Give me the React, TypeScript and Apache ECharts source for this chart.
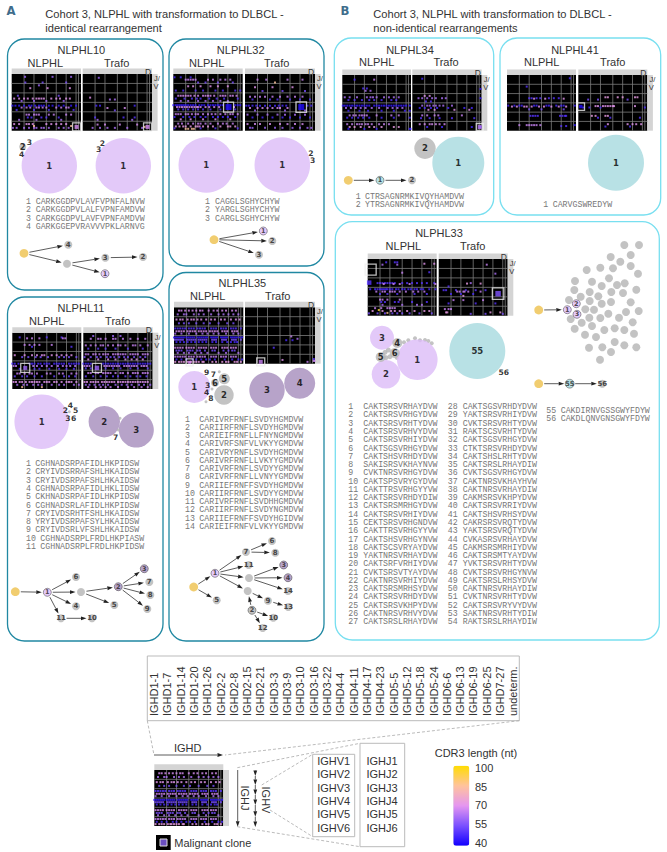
import React, { useEffect, useRef } from "react";
import * as echarts from "echarts";

// ---------- category / tick data ----------
const ighdLabels = ["IGHD1-1","IGHD1-7","IGHD1-14","IGHD1-20","IGHD1-26","IGHD2-2","IGHD2-8","IGHD2-15","IGHD2-21","IGHD3-3","IGHD3-9","IGHD3-10","IGHD3-16","IGHD3-22","IGHD4-4","IGHD4-11","IGHD4-17","IGHD4-23","IGHD5-5","IGHD5-12","IGHD5-18","IGHD5-24","IGHD6-6","IGHD6-13","IGHD6-19","IGHD6-25","IGHD7-27","undeterm."];
const ighvLabels = ["IGHV1","IGHV2","IGHV3","IGHV4","IGHV5","IGHV6"];
const ighjLabels = ["IGHJ1","IGHJ2","IGHJ3","IGHJ4","IGHJ5","IGHJ6"];
const cdr3Ticks = ["100","85","70","55","40"];
const dFamilyEdges = [5, 9, 14, 18, 22, 26, 27];
const vFamilyEdges = [1, 2, 3, 4, 5];

// ---------- CDR3 sequences ----------
const seq10 = ["CARKGGDPVLAVFVPNFALNVW","CARKGGDPVLALFVPNFAMDVW","CARKGGDPVLAVFVPNFAMDVW","GARKGGEPVRAVVVPKLARNVG"];
const seq32 = ["CAGGLSGHYCHYW","YARGLSGHYCHYW","CARGLSGHYCHYW"];
const seq34 = ["CTRSAGNRMKIVQYHAMDVW","YTRSAGNRMKIVQYHAMDVW"];
const seq41 = ["CARVGSWREDYW"];
const seq11 = ["CGHNADSRPAFIDLHKPIDSW","CRYIVDSRRAFSHLHKAIDSW","CRYIVDSRPAFSHLHKAIDSW","CGHNADSRPAFIDLHKLIDSW","CKHNADSRPAFIDLHKPIDSW","CGHNADSRLAFIDLHKPIDSW","CRYIVDSRHTFSHLHKAIDSW","YRYIVDSRPAFSYLHKAIDSW","CRYIVDSRLVFSHLHKAIDSW","CGHNADSRPLFRDLHKPIASW","CGHNADSRPLFRDLHKPIDSW"];
const seq35 = ["CARIVRFRNFLSVDYHGMDVW","CARIIRFRNFLSVDYHGMDVW","CARIEIFRNFLLFNYNGMDVW","CARIVRFSNFVLVKYYGMDVW","CARIVRYRNFLSVDYHGMDVW","CARIVRFRNFLLVKYYGMDVW","CARIVRFRNFLSVDYYGMDVW","CARIVRFRNFLLVNYYGMDVW","CARIIEFRNFFSVDYHGMDVW","CARIIRFRNFLSVDYYGMDVW","CARIVRFRNFLSVDHHGMDVW","CARIIRFRNFLSVDYNGMDVW","CARIIEFRNFFSVDYHGIDVW","CARIEIFRNFVLVKYYGMDVW"];
const seq33a = ["CAKTSRSVRHAYDVW","CAKTSRSVRHGYDVW","CAKTSRSVRHTYDVW","CAKTSRSVRHVYDVW","CAKTSRSVRHIYDVW","CAKTSGSVRHGYDVW","CAKTSHSVRHDYDVW","SAKISRSVKHAYNVW","CVKTNRSVRHGYDVW","CAKTSPSVRYGYDVW","CAKTTRSVRHGYYVW","CAKTSRSVRHDYDIW","CAKTSRSMRHGYDVW","CAKTSRSVRHIYDVW","CEKTSRSVRHGNDVW","CAKTTRSVRHGYYVW","CAKTSHSVRHGYNVW","CAKTSCSVRYAYDVW","YAKTNRSVRHAYDVW","CAKTSRFVRHIYDVW","CVKTSRSVTYAYDVW","CAKTNRSVRHIYDVW","CAKTSRSMRHSYDVW","CAKTSRSVRHDYDVW","CAKTSRSVKHPYDVW","CAKTNRSVRHVYDVW","CAKTSRSLRHAYDVW"];
const seq33b = ["CAKTSGSVRHDYDVW","YAKTSRSVRHIYDVW","CVKTSRSVRHTYDVW","RAKTSCSVRHTYDVW","CAKTSGSVRHGYDVW","CTKTSRSVRHDYDVW","CAKTSHSLRHTYDVW","CAKTSRSLRHAYDIW","CVKTSGSVRHGYDVW","CAKTNRSVKHAYHVW","CAKTNRSVRHAYDIW","CAKMSRSVKHPYDVW","CAKTSRSVRRIYDVW","CAKTSHSVRHSYDVW","CAKRSRSVRQTYDVW","YAKTSRSVRQTYDVW","CVKASRSVRHAYDVW","CAKMSRSMRHIYDVW","CAKTSRSMTYAYDVW","YVKTSRSVRHTYDVW","CVKTSRSVRHGYNVW","CAKTSRSLRHSYDVW","CAKTNRSVRHAYDIW","CVKTNRSVRHTYDVW","CAKTSRSVRYVYDVW","SAKTNRSVRHTYDIW","RAKTSRSLRHAYDIW"];
const seq33c = ["CAKDIRNVGSSGWYFDYW","CAKDLQNVGNSGWYFDYW"];

// ---------- heat-map dots: [row position, CDR3 length, ...IGHD positions] ----------
const dots10a = [
  [0.3,60,5.4,16.5,24],[0.9,55,5.5,12.5,22],[1.2,60,11],[1.5,70,7.5,14.5,23.5],
  [2.3,55,2.5,19],[2.6,70,1,3,5,6.5,8.5,10,11,12,13,16,18,19.5,22,23.5],[2.85,60,4,9,14,21],
  [3.35,45,0.3,1.5,3,5,7,8,9.5,11,12,13,15,16.5,19,21,24,26],[3.55,66,4,6,7.5,10,11,12.5,14,18,20,22,23],[3.8,50,2,9,15,25],
  [4.3,66,6,7,9,10,11,15,17,22,24],[4.6,50,6.5,8,12,14,19],[4.85,62,3,10,20],
  [5.3,70,1,3,6,7,8.5,14,16,18,20,22],[5.7,62,0.5,2,5,7,9,10,12,13,15,19,21,23],[5.5,85,9,24],
];
const dots10b = [
  [0.4,60,6.5],[2.5,70,3],[2.7,62,11,13],[3.35,48,5.5,7,21],[3.6,68,10,17],[3.85,55,13],
  [4.6,50,5,16.5,21],[4.85,62,6,20],[5.35,68,6,9,15,22],[5.7,62,4,7,10,13,18,24],[5.6,85,25],
];
const dots32a = [
  [0.35,48,0.5,3,7],[0.6,66,5,6,7,8,9,14,16,19,21,23],[0.9,55,10,13,18,24],
  [1.3,70,6,8,11,15,18,22],[1.75,50,1,4,9,12,17,20,25,27],
  [2.3,68,2,3,4,5,6,7,8.5,10,12,13,14,15,16.5,19,20,21,23,24,25.5],[2.6,50,1,4.5,7.5,9.5,11,14.5,17.5,20.5,26],[2.85,62,3,6,10,13,16,19,22],
  [3.3,45,0,1,1.8,2.6,3.4,4.2,5,6,7,8,9,10.5,11.5,12.5,14,15,16,17,18,19,20,25,26,27],[3.5,68,1.5,2.5,3.5,4.5,5.5,6.5,7.5,8.5,9.5,10,11,13,14.5,16.5,18.5,24.5],[3.75,50,2,4,6,8,10,12,15,19,25],
  [4.25,66,1,2,3,5,6,7.5,9,10,12,14,15.5,17,19,21,23,24,26],[4.55,48,0.5,4,6.5,8.5,11,13,16,18,20,22,25],[4.8,70,3,7,12,17,23],
  [5.25,66,2,3.5,6,8,10,11,13,15,18,20,21.5,24],[5.55,72,1,2.5,4,5,7,9,9.8,10.6,12,14,16,19,22,23,25],[5.8,85,5,6,7.5,8.3],[5.75,50,0.5,11,17,26],
];
const dots32b = [
  [0.6,66,5,8.5,17,23],[0.9,85,12],[1.4,70,4,11,19],[1.8,55,7,15,24],
  [2.4,66,2,4,6,8,11,14,17,20,23],[2.7,50,3,10,13,18,22,26],
  [3.35,48,0.5,1.5,3,4.5,6,8,10,12,13.5,15,16.5,25,26.5],[3.6,68,2,5,7,9,11,13,14,17],[3.85,60,4,16,24],
  [4.3,62,1,5,9,13,16,20,24],[4.6,48,3,7,11,15,18,22,26],
  [5.3,68,1,4,6,10,14,17,20,23],[5.7,60,2,3,8,12,15,19,22,25,26.5],
];
const dots34a = [
  [0.5,48,5],[0.5,66,13],[1.45,50,8.5,10],[1.7,62,9.5,11.5],
  [2.4,62,1,3,6,10,11.5,12.5,14,17,19,21,23],[2.7,50,2.5,5,8,11,13,16,20,22],
  [3.3,45,0.2,1,2,3,4,5,6,7,8,9,10,11,13,14,15,16,17,18,19,20,21,22,23,24,25,26,27.5],[3.55,62,1.5,3.5,5.5,7.5,9.5,12,15,18.5,20.5,22.5,24.5],[3.85,48,2.5,7,10.5,16,21,25.5,27.5],
  [4.35,66,3,4.5,5.5,7,8,9,10,14,20,23],[4.6,48,2,4,6.5,8.5,11,16,21,27.5],
  [5.3,66,2,4,6,7,8,9.5,10.5,12,15,17,19],[5.6,72,3,5,7.5,11,13,16,21,23],[5.8,45,2.5,9,14,27.5,27.8],
];
const dots34b = [
  [0.4,48,4],[2.25,70,5,7],[2.5,62,2.5,4,6,8,9.5,12,13.5],[2.85,50,5.5,7.5],
  [3.3,62,4,6,7,8.5,9.5,11,12.5,16],[3.55,48,3,5,7.5,10,14.5,21,24],[3.75,70,6.5,9,17,23],
  [4.35,66,4,6,9,10.5,20],[4.65,50,3.5,7,11,16,25],
  [5.3,68,3,5,7,8,9.5,11,13],[5.6,48,6,12,24,27.5],[1.5,45,27.5],[2.5,45,27.5],
];
const dots41a = [
  [0.35,48,25.5],[1.25,50,8],[2.5,50,9,10,12,13.5,17,19,21],[2.55,70,11,15.5,23],
  [3.3,48,0.5,3,5,6,11,12,16,17,20,22,23,27.5],[3.4,70,2,4,7,8,10,13,15,18,21,24],[3.7,55,9,14,23],
  [4.4,50,9.5,10.5,11.5,12.5,21.5,22.5,23.5,24],[5.4,66,5,8,9,10,11,12,13.5],[5.5,50,22,24],[5.4,45,27.5],
];
const dots41b = [
  [2.4,72,11,12,16,18,23,24],[2.65,55,4,8,20],
  [3.35,70,7,8,10,11,12,13,14,14.5,23],[3.5,48,2,4.5,9,27],[4.4,72,5.5,7,11,12],[4.6,50,8,13,25],
  [5.3,70,12,20,22,23.5,25.5],[5.55,50,11,21],
];
const dots11a = [
  [0.5,50,3,14,20],[0.6,66,6,8,11,20.5,21.5],[1.3,66,5,7,9,11,16],[1.5,50,8,24],
  [2.4,70,1,5,8,10,12,13,16,18,20,22,24],[2.6,55,4,6.5,9.5,11.5,14.5,19,21,23,26],
  [3.3,48,0,1,2.5,7,8,9,10.5,11.5,13,14,15,17,18,19,20,21,23,24,25,26,27],[3.55,64,0.5,1.5,8.5,10,12,14,16,18.5,20.5,22,23.5,25.5],[3.85,50,3,9,11,15,19,22,25],
  [4.35,66,2,3,5,7,8,10,14,15.5,19,20.5,24,26],[4.65,52,1,4,6,9,12,17,21,23,25.5],
  [5.25,70,0.5,1.5,3,4,5.5,7,8,9,10,11,13,14,15,17,18,20,22,23,24,26],[5.55,62,2,4.5,6,8.5,10.5,12,16,19,21,25,27],[5.8,85,4,12],
];
const dots11b = [
  [0.35,60,4,12,15],[0.65,66,3,6,7,9,12,13,16,19,22,25],[1.35,66,1,3,5,7,8,10,12,14,15,17,20,21,23,26],[1.7,52,2,6,9,13,18,24],
  [2.3,66,1,2,4,5,6.5,8,9,10,12,13,14,15,16,17,19,20,21,22,24,25,26],[2.6,55,0.5,3,5.5,7,9.5,11,12.5,14.5,16.5,18,20.5,23,25],[2.85,70,2,6,10,13,17,19.5,21.5,24],
  [3.3,48,0,1,2,3,8,9,10,11,12,13,14,15,16,17,18,19,20,21,22,23,24,25,26,27],[3.55,66,0.5,1.5,2.5,8.5,9.5,10.5,11.5,12.5,13.5,14.5,16.5,17.5,18.5,19.5,20.5,21.5,23.5,24.5,25.5],[3.8,52,1,3,9,12,15,19,22,26],
  [4.3,66,2,3,5,6,8,9,10,11,13,15,16,18,20,21,22,24,25,26],[4.65,52,1,4,7,9.5,12,14,17,19,21.5,23,25.5],
  [5.25,70,0.5,1.5,3,4,5,6,7.5,8.5,9.5,10.5,11.5,12.5,14,15,16,17,18,19,20,21,22,23,24,25,26],[5.55,60,1,2.5,4.5,6.5,8,10,13,15.5,17.5,19.5,22.5,24.5,27],[5.8,66,2,5,7,9,11,14,18,20.5,23.5,26],
];
const dots35a = [
  [0.35,68,2,3,4.5,6,7.5,9,10.5,11.5,14,16,17.5,19.5,21,23.5,25],[0.75,62,1.5,4,5,8,10,12,15,18,20,22,24,26],
  [1.3,70,1,2.5,3.5,5.5,7,8,9.5,11,13,15,16.5,19,20.5,23,25,26.5],[1.7,55,2,4,6,9,12,14.5,18,21.5,24],
  [2.25,50,0.5,1.5,2.5,3.5,4.5,6,7,8,9.5,10.5,11.5,12.5,15,16,17,19,20,21,23,24,25,27],[2.55,68,1,2,3,4,5.5,6.5,7.5,8.5,10,11,12,13,14.5,15.5,16.5,17.5,19.5,20.5,21.5,23.5,24.5,25.5],[2.8,62,0.5,3,6,9,11.5,13.5,16,18,21,24,26],
  [3.2,45,0,0.8,1.6,2.4,3.2,4,5,5.8,6.6,7.4,8.2,9.5,10.3,11.1,11.9,12.7,13.4,15,15.8,16.6,17.4,19,19.8,20.6,21.4,23,23.8,24.6,25.4,26.5,27.5],[3.45,55,0.4,1.2,2,2.8,3.6,5.4,6.2,7,7.8,8.6,9.9,10.7,11.5,12.3,13.1,15.4,16.2,17,19.4,20.2,21,23.4,24.2,25,27],[3.7,48,1,2.5,4,5.5,7,8.5,10,11.5,13,15.5,17,19.5,21.5,23,24.5,25.5],
  [4.3,68,0.5,1.5,2.5,3.5,5,6,7,8,10,11,12,13,15,16,17,19.5,20.5,21.5,23,24,25],[4.6,55,1,2,3,5.5,6.5,7.5,9.5,10.5,12.5,15.5,16.5,20,22,23.5,24.5],[4.85,62,1.5,4,6,8.5,11,13.5,18,21,26],
  [5.25,66,0.5,1.5,2.5,3.5,4.5,6,7,8,9.5,10.5,11.5,12.5,15,16,17,19,20,21,23,24,25],[5.55,48,1,3,5,7.5,9,11,13,14.5,16.5,20.5,23.5,26,27.5],[5.8,72,0.5,2,3,4,5.5,6.5,7,8,9,10,11.5,12,15.5,17,19.5,21,22,24.5,25.5,27],
];
const dots35b = [[3.35,62,21],[3.5,48,16.5,19],[3.1,66,18.5],[4.3,50,11.5],[5.6,70,15],[5.8,66,25],[5.5,50,27.5],[5.7,66,27.5,27.8]];
const dots33a = [
  [0.35,50,7.5,11,12],[0.6,62,6,12],[0.5,70,23,27],[1.45,66,14],[1.4,50,25],
  [2.55,50,4,5,6,7,8,9,10,11,14,16,18,20,22,24,27],[2.65,68,6.5,10.5,13,17,27.5],
  [3.2,48,1,3,4,5,5.8,6.6,7.4,8,9,10,11.5,12.5,14,15,16.5,17.5,19,20,21.5,22.5,25,27.5],[3.45,66,3.5,6,7,9,10,11,13,15.5,18.5,20.5,23],[3.7,50,5,8,12,19,24],
  [4.3,66,5,6,8,13],[4.55,50,5.5,7,11,12.5,18,24],[4.85,62,6,14,20,22],
  [5.2,66,3,5.5,8,9,10,11],[5.5,72,2,6,9.5,11,13,16,19,23,25],[5.75,55,0.5,4,7,10,12,14,17,21,26],[5.4,95,4.5],[5.7,85,8],
];
const dots33b = [
  [0.6,66,19.5],[1.55,62,23],[2.55,62,13],[2.6,72,11.5,17],[2.9,50,4],
  [3.3,50,2,3,7,11,15,19],[3.45,66,7.5,8.5,10,10.5,12,17],[3.7,48,5,9,14],[3.9,72,10],
  [4.35,66,6,10,18],[4.7,50,4,15,23],[5.3,66,2.5,4,5],[5.65,72,3,3.5,21,25],[5.8,55,13,19,26],
];

// ---------- malignant clone markers: [IGHD position, row position, CDR3 length] ----------
const clone10a = [[26.2, 5.6, 68]];
const clone10b = [[26.2, 5.6, 68]];
const clone32a = [[22.3, 3.5, 42]];
const clone32b = [[22.5, 3.5, 42]];
const clone34b = [[27.2, 5.6, 64]];
const clone41b = [[1, 3.4, 42]];
const clone11a = [[5.25, 3.75, 60]];
const clone11b = [[5.5, 3.75, 60]];
const clone35a = [[6.3, 5.85, 68]];
const clone35b = [[6.3, 5.8, 66]];
const clone33a = [[0.6, 2.5, 50]];
const clone33b = [[24.1, 3.67, 56]];
const cloneFrame33a = [[1.2, 1.13]];

// ---------- clone-size bubbles: [x, y, radius, label, colour key] ----------
const bubbles10 = [[49.3,165.7,27.7,"1","l"],[22.7,146.7,3.5,"2","g"],[29.3,142.7,0,"3","n"],[21.7,154.3,0,"4","n"],[123.3,165.7,27.7,"1","l"],[102.3,143.3,0,"2","n"],[98.7,149.7,0,"3","n"]];
const bubbles32 = [[206.3,165,27.8,"1","l"],[282.3,165,27.8,"1","l"],[311,153.3,0,"2","n"],[312.7,160.7,0,"3","n"]];
const bubbles34 = [[425,148.3,10.7,"2","g"],[458.3,162.7,26,"1","t"]];
const bubbles41 = [[616,162.7,28,"1","t"]];
const bubbles11 = [[41.7,421.7,27.3,"1","l"],[69.3,411.7,1.5,"","g"],[65.3,410.7,0,"2","n"],[70.3,405.7,0,"4","n"],[75.7,410.7,0,"5","n"],[68,418,0,"3","n"],[73.7,418,0,"6","n"],[104.3,421.7,15.7,"2","p"],[136.3,430,17.5,"3","p"],[120,418.3,1.5,"","g"],[118.3,430,1.5,"","g"],[115.7,437,0,"7","n"]];
const bubbles35 = [[194.3,387,16,"1","l"],[224,395,9.7,"2","g"],[224.3,378.7,5.5,"5","g"],[215,382.7,4,"6","g"],[219.3,371.7,1.5,"","g"],[206,401.7,1.5,"","g"],[212,389,1.5,"","g"],[207.7,385,0,"3","n"],[206.7,392.7,0,"4","n"],[211,398.3,0,"8","n"],[206.7,372,0,"9","n"],[213.3,374,0,"7","n"],[267,390,17.7,"3","p"],[299.7,383.3,15.5,"4","p"]];
const bubbles33 = [[404,342.3,2,"","g"],[408.3,340.3,2,"","g"],[415,338.3,2,"","g"],[420,340.3,2,"","g"],[425,340,2,"","g"],[428.3,341,2,"","g"],[431.7,343.3,2,"","g"],[385,352.3,2.5,"","g"],[388.3,350,2.5,"","g"],[390,356.7,2.5,"","g"],[396.7,357.7,2,"","g"],[386,357.7,2.5,"","g"],[382,337.7,12,"3","l"],[386,374.3,14.3,"2","l"],[417.3,359.7,20.3,"1","l"],[397.3,343,5,"4","g"],[380.7,357,5,"5","g"],[394.7,353,5,"6","g"],[477.3,351,28,"55","t"],[503.7,372,0,"56","n"]];

// ---------- lineage trees ----------
const tree10 = [[24,253.3,4.4,"","y"],[68.3,244.7,4,"4","g"],[67,263.7,4,"","g"],[105.3,257.7,4,"3","g"],[143,257,4,"2","g"],[105,273.7,4,"1","lr"]];
const edges10 = [[0,1],[0,2],[2,3],[3,4],[2,5]];
const tree32 = [[214,239.7,4.4,"","y"],[263.3,231,4,"1","lr"],[272.3,241,4,"2","g"],[259,254.7,4,"3","g"]];
const edges32 = [[0,1],[0,2],[0,3]];
const tree34 = [[348.3,180.3,4.4,"","y"],[380,180.3,4,"1","tr"],[412,180.3,4,"2","g"]];
const edges34 = [[0,1],[1,2]];
const tree11 = [[15.3,591.7,4.4,"","y"],[47.3,592.3,4,"1","lr"],[76,577,4,"6","g"],[81,592,4,"","g"],[76,606.3,4,"4","g"],[61,618.3,4,"11","g"],[92,618.3,4,"10","g"],[118.3,586.7,4,"2","pr"],[114.3,605,4,"5","g"],[144.3,568.7,4,"3","pr"],[149.3,582,4,"7","g"],[150.3,595,4,"8","g"],[147.3,609,4,"9","g"]];
const edges11 = [[0,1],[1,2],[1,3],[1,4],[1,5],[5,6],[3,7],[3,8],[7,9],[7,10],[7,11],[7,12]];
const tree35 = [[193.7,587,4.4,"","y"],[215,573.3,4,"1","lr"],[216.7,600.3,4,"5","g"],[246,552,4,"7","g"],[272,541,4,"6","g"],[275.3,552.7,4,"8","g"],[248.7,565,4,"11","g"],[249,578,4,"","g"],[247.7,591,4,"","g"],[283.7,565,4,"3","pr"],[288,577.7,4,"4","pr"],[288,591,4,"14","g"],[268,600.7,4,"9","g"],[288.3,607,4,"13","g"],[252,610.3,4,"2","gr"],[273.3,617.7,4,"10","g"],[262.7,628,4,"12","g"]];
const edges35 = [[0,1],[0,2],[1,3],[3,4],[3,5],[1,6],[1,7],[1,8],[7,9],[7,10],[7,11],[8,12],[12,13],[14,8],[14,15],[14,16]];
const tree33 = [[538.7,310,4.4,"","y"],[567.3,309.7,4,"1","lr"],[576.3,303.7,4,"2","lr"],[577,314.3,4,"3","lr"]];
const edges33 = [[0,1]];
const tree33b = [[538.7,383.7,4.4,"","y"],[569.7,383.7,4.4,"55","tr"],[602.3,383.7,4,"56","g"]];
const edges33b = [[0,1],[1,2]];
const cloud33 = [[624.3,245],[639,245],[610.7,257],[630.7,255],[620.3,261.7],[586.7,270],[600.3,267.7],[613,268.3],[630.7,266],[638,273.7],[609,278.3],[575,281],[592,281.7],[601.7,286],[617,285],[624.7,283.3],[636.3,289.7],[574.3,290],[589.7,292],[611.3,292],[623,293],[580.7,296.7],[598.3,296.3],[569,300],[589.7,301],[601.7,303.7],[611,302],[630.7,302.3],[585.3,309.3],[594,309.7],[608.3,313.7],[626,312],[638.7,311],[570.7,319],[589.3,317.7],[600.3,318],[619,317.7],[581.7,322.7],[592,326],[632.7,322.3],[574.7,328.7],[604.3,330],[614.7,328.3],[624.3,330],[634,333.7],[585,334.7],[596,337],[589,347.7],[602.3,347.3],[614.7,342],[624.3,345.3],[636.3,347.3],[611,352],[600,359.7]];

// ---------- layout (not data) ----------
const SANS = '"Liberation Sans", Arial, sans-serif';
const MONO = '"Liberation Mono", monospace';
const BOLD = '"DejaVu Sans", sans-serif';
const TEAL_FRAME = "#2088a2";
const CYAN_FRAME = "#78dff0";
const palette: any = { l: "#dcbcf8", t: "#a6dade", p: "#a58cbc", g: "#b4b4b4", y: "#eec04c", n: "transparent", lr: "#dcbcf8", tr: "#a6dade", pr: "#a58cbc", gr: "#b4b4b4" };
const inkGrey = "#777";

const panels: any[] = [
  { d: dots10a, c: clone10a, cs: 4, f: 8, x: [11.7, 81], y: [74, 130.7] },
  { d: dots10b, c: clone10b, cs: 4, f: 8, x: [82.7, 152], y: [74, 130.7] },
  { d: dots32a, c: clone32a, cs: 6, f: 10, x: [173.3, 242.7], y: [74, 130.7] },
  { d: dots32b, c: clone32b, cs: 6, f: 10.5, x: [245, 315], y: [74, 130.7] },
  { d: dots34a, c: [], x: [342.3, 411], y: [75, 130.7] },
  { d: dots34b, c: clone34b, cs: 4, f: 7, x: [412.3, 481.7], y: [75, 130.7] },
  { d: dots41a, c: [], x: [507, 576], y: [75, 130.7] },
  { d: dots41b, c: clone41b, cs: 3.5, f: 7.5, x: [578.3, 647.3], y: [75, 130.7] },
  { d: dots11a, c: clone11a, cs: 4, f: 9, x: [12.3, 81.3], y: [332.7, 389] },
  { d: dots11b, c: clone11b, cs: 4.5, f: 9, x: [83.3, 152.7], y: [332.7, 389] },
  { d: dots35a, c: clone35a, cs: 3, f: 7, x: [174, 243.3], y: [307.3, 363.7] },
  { d: dots35b, c: clone35b, cs: 4, f: 8, x: [245, 315], y: [307.3, 363.7] },
  { d: dots33a, c: clone33a, cs: 4.5, f: 11, fd: cloneFrame33a, x: [367.7, 436.7], y: [259, 315.7] },
  { d: dots33b, c: clone33b, cs: 5.5, f: 11.5, x: [438.7, 507.7], y: [259, 315.7] },
  { d: dots35a, c: [], x: [154.3, 223.3], y: [770, 826], small: true },
];

const txt = (text: string, x: number, y: number, o: any = {}) => ({
  type: "text", x, y, silent: true, rotation: o.rot || 0,
  style: { text, fontFamily: o.fam || SANS, fontSize: o.size || 11, fontWeight: o.weight || "normal", fill: o.fill || "#333",
    align: o.align || "center", verticalAlign: "middle" },
});
const rect = (x0: number, y0: number, x1: number, y1: number, style: any, r = 0) => ({
  type: "rect", silent: true, shape: { x: x0, y: y0, width: x1 - x0, height: y1 - y0, r }, style,
});
const dash = (x1: number, y1: number, x2: number, y2: number) => ({
  type: "line", silent: true, shape: { x1, y1, x2, y2 }, style: { stroke: "#aaa", lineWidth: 0.8, lineDash: [3, 2] },
});
const seqBlock = (list: string[], first: number, numX: number, seqX: number, seqX2: number, y0: number, dy = 8.27) =>
  list.flatMap((s, i) => {
    const n = first + i;
    const sx = n > 9 ? seqX2 : seqX;
    return [
      txt(String(n), numX, y0 + i * dy, { fam: MONO, size: 8.25, fill: inkGrey, align: "left" }),
      txt(s, sx, y0 + i * dy, { fam: MONO, size: 8.25, fill: inkGrey, align: "left" }),
    ];
  });

function buildGraphic() {
  const els: any[] = [];
  const frames: any[] = [
    [7.5, 39, 163, 290, TEAL_FRAME], [169, 39, 324, 266, TEAL_FRAME], [7.5, 297, 163, 641, TEAL_FRAME], [169, 272.5, 324, 641, TEAL_FRAME],
    [334.3, 38, 493.7, 215, CYAN_FRAME], [500, 38, 660.7, 215, CYAN_FRAME], [335.3, 221.7, 659.3, 640, CYAN_FRAME],
  ];
  frames.forEach((f) => els.push(rect(f[0], f[1], f[2], f[3], { fill: "none", stroke: f[4], lineWidth: 1.3 }, 17)));

  els.push(txt("A", 11, 10.5, { fam: '"DejaVu Sans Condensed", sans-serif', weight: "bold", size: 13, fill: "#3f6d8c" }));
  els.push(txt("B", 345, 10, { fam: '"DejaVu Sans Condensed", sans-serif', weight: "bold", size: 13, fill: "#3f6d8c" }));
  els.push(txt("Cohort 3, NLPHL with transformation to DLBCL -", 45.3, 14.3, { align: "left", size: 11.1 }));
  els.push(txt("identical rearrangement", 45.3, 27.6, { align: "left", size: 11.1 }));
  els.push(txt("Cohort 3, NLPHL with transformation to DLBCL -", 373.3, 14.3, { align: "left", size: 11.1 }));
  els.push(txt("non-identical rearrangements", 373.3, 27.6, { align: "left", size: 11.1 }));

  const titles: any[] = [
    ["NLPHL10", 81.3, 50, 45.3, 116.7, 63], ["NLPHL32", 240.7, 50, 206.7, 276.7, 63], ["NLPHL11", 81, 308.3, 46.7, 117.7, 321],
    ["NLPHL35", 242.3, 283.3, 207.7, 277.7, 295.7], ["NLPHL34", 410, 50, 376.7, 446, 62], ["NLPHL41", 575, 50, 541.7, 612.7, 62],
    ["NLPHL33", 439, 232.7, 403.3, 472.7, 246.3],
  ];
  titles.forEach((t) => {
    els.push(txt(t[0], t[1], t[2]));
    els.push(txt("NLPHL", t[3], t[5]));
    els.push(txt("Trafo", t[4], t[5]));
  });

  // grey D header strips and J/V side strips
  panels.forEach((p, i) => {
    const h = p.small ? 5.7 : 5.5;
    els.push(rect(p.x[0], p.y[0] - h, p.x[1], p.y[0], { fill: "#d4d4d4" }));
    const isTrafo = !p.small && i % 2 === 1;
    if (isTrafo || p.small) {
      const stripW = p.small ? 5.7 : 5.6;
      els.push(rect(p.x[1], p.y[0], p.x[1] + stripW, p.y[1], { fill: "#d4d4d4" }));
    }
    if (isTrafo) {
      els.push(txt("D", p.x[1] - 4, p.y[0] - 2.5, { size: 8.5 }));
      els.push(txt("J/", p.x[1] + 5, p.y[0] + 4.5, { size: 7.5 }));
      els.push(txt("V", p.x[1] + 4, p.y[0] + 12.5, { size: 7.5 }));
    }
  });

  els.push(...seqBlock(seq10, 1, 26, 35.7, 40.7, 201.7));
  els.push(...seqBlock(seq32, 1, 205, 215, 220, 201.7));
  els.push(...seqBlock(seq34, 1, 355.7, 365, 370, 196.3));
  els.push(...seqBlock(seq41, 1, 543.3, 552.7, 557.7, 204.3));
  els.push(...seqBlock(seq11, 1, 26, 35.3, 40.3, 463.7));
  els.push(...seqBlock(seq35, 1, 185, 199.3, 199.3, 419));
  els.push(...seqBlock(seq33a, 1, 348.3, 363.3, 363.3, 406.7));
  els.push(...seqBlock(seq33b, 28, 447.7, 462.7, 462.7, 406.7));
  els.push(...seqBlock(seq33c, 55, 546.3, 560.7, 560.7, 410.7));

  // key at the bottom
  els.push(rect(147.3, 656, 519.3, 720.7, { fill: "none", stroke: "#bbb", lineWidth: 1 }));
  ighdLabels.forEach((l, i) => els.push(txt(l, 154 + i * 13.31, 716, { rot: Math.PI / 2, align: "left" })));
  els.push(dash(147.3, 720.7, 154, 755), dash(519.3, 720.7, 225, 755));
  els.push(txt("IGHD", 187.7, 747.7));
  els.push(txt("IGHJ", 245, 798, { rot: -Math.PI / 2 }));
  els.push(txt("IGHV", 266, 800, { rot: -Math.PI / 2 }));
  els.push(rect(312.7, 754.3, 354.7, 836.7, { fill: "none", stroke: "#bbb", lineWidth: 1 }));
  els.push(rect(360, 743.3, 404.7, 846.7, { fill: "none", stroke: "#bbb", lineWidth: 1 }));
  els.push(dash(237.3, 767.7, 360, 743.3), dash(237.3, 826.7, 360, 846.7), dash(261.7, 785, 312.7, 754.3), dash(270, 810, 312.7, 836.7));
  ighvLabels.forEach((l, i) => els.push(txt(l, 333.7, 761 + i * 13.33)));
  ighjLabels.forEach((l, i) => els.push(txt(l, 382, 761 + i * 13.33)));
  els.push(rect(156, 835, 170.7, 850, { fill: "#000" }));
  els.push(rect(160, 839, 167, 846, { fill: "#6a4fc0", stroke: "#ddd", lineWidth: 1 }));
  els.push(txt("Malignant clone", 174.3, 843, { align: "left" }));
  els.push(txt("CDR3 length (nt)", 476, 753.3));
  cdr3Ticks.forEach((l, i) => els.push(txt(l, 475, 767.7 + i * 18.85, { align: "left" })));
  return els;
}

const edgeRows = (nodes: any[], edges: number[][]) =>
  edges.map(([a, b]) => [nodes[a][0], nodes[a][1], nodes[b][0], nodes[b][1], 5.5, 5.5]);
const schemaArrows = [
  [154, 755, 223, 755, 0, 0], [237.7, 770, 237.7, 826.7, 0, 0],
  [255.3, 770, 255.3, 776, 0, 0], [255.3, 776, 255.3, 785, 0, 0], [255.3, 785, 255.3, 795, 0, 0],
  [255.3, 795, 255.3, 805, 0, 0], [255.3, 805, 255.3, 816.7, 0, 0], [255.3, 816.7, 255.3, 827, 0, 0],
];

const nodeItem = (n: any[], small: boolean) => {
  const [x, y, r, label, key] = n;
  const ringed = key.length === 2;
  return {
    value: [x, y],
    symbolSize: r === 0 ? 0.1 : r * 2,
    itemStyle: { color: palette[key], borderColor: ringed ? "#333" : "transparent", borderWidth: ringed ? 0.6 : 0 },
    label: {
      show: !!label, position: "inside", formatter: label, color: small ? "#222" : "#000",
      fontFamily: BOLD, fontWeight: "bold", fontSize: small ? (ringed ? 6.5 : 7) : key === "n" ? 7.6 : 8.5,
    },
  };
};

function buildOption() {
  const grids: any[] = [];
  const xAxes: any[] = [];
  const yAxes: any[] = [];
  const series: any[] = [];
  const colored: number[] = [];

  panels.forEach((p, i) => {
    grids.push({ show: true, backgroundColor: "#000", borderWidth: 0, left: p.x[0], top: p.y[0], width: p.x[1] - p.x[0], height: p.y[1] - p.y[0] });
    xAxes.push({ type: "value", gridIndex: i, min: 0, max: 28, show: false });
    yAxes.push({ type: "value", gridIndex: i, min: 0, max: 6, inverse: true, show: false });
    series.push({
      type: "custom", xAxisIndex: i, yAxisIndex: i, silent: true, clip: true,
      data: [...dFamilyEdges.map((v) => [v, 0]), ...vFamilyEdges.map((v) => [v, 1])],
      renderItem: (_: any, api: any) => {
        const v = api.value(0);
        const vert = api.value(1) === 0;
        const a = api.coord(vert ? [v, 0] : [0, v]);
        const b = api.coord(vert ? [v, 6] : [28, v]);
        return { type: "line", shape: { x1: a[0], y1: a[1], x2: b[0], y2: b[1] }, style: { stroke: "#7c7c7c", lineWidth: 0.8 } };
      },
    });
    colored.push(series.length);
    series.push({
      type: "scatter", xAxisIndex: i, yAxisIndex: i, silent: true, symbol: "rect", symbolSize: 2,
      data: p.d.flatMap(([y, c, ...xs]: number[]) => xs.map((x) => [x, y, c])),
    });
    if (p.c.length) {
      colored.push(series.length);
      series.push({ type: "scatter", xAxisIndex: i, yAxisIndex: i, silent: true, symbol: "rect", symbolSize: p.cs, data: p.c });
      series.push({
        type: "scatter", xAxisIndex: i, yAxisIndex: i, silent: true, symbol: "rect", symbolSize: p.f,
        itemStyle: { color: "transparent", borderColor: "#eee", borderWidth: 1.3 },
        data: p.fd ? p.fd : p.c.map((d: number[]) => [d[0], d[1]]),
      });
    }
  });

  // overlay in picture units, for bubbles and lineage trees
  const ov = panels.length;
  grids.push({ left: 0, top: 0, width: 667, height: 852 });
  xAxes.push({ type: "value", gridIndex: ov, min: 0, max: 667, show: false });
  yAxes.push({ type: "value", gridIndex: ov, min: 0, max: 852, inverse: true, show: false });

  const arrows = [
    ...edgeRows(tree10, edges10), ...edgeRows(tree32, edges32), ...edgeRows(tree34, edges34), ...edgeRows(tree11, edges11),
    ...edgeRows(tree35, edges35), ...edgeRows(tree33, edges33), ...edgeRows(tree33b, edges33b), ...schemaArrows,
  ];
  series.push({
    type: "custom", xAxisIndex: ov, yAxisIndex: ov, silent: true, z: 3, data: arrows,
    renderItem: (_: any, api: any) => {
      const a = api.coord([api.value(0), api.value(1)]);
      const b = api.coord([api.value(2), api.value(3)]);
      const g1 = api.value(4), g2 = api.value(5);
      const len = Math.hypot(b[0] - a[0], b[1] - a[1]);
      const ux = (b[0] - a[0]) / len, uy = (b[1] - a[1]) / len;
      const s = [a[0] + ux * g1, a[1] + uy * g1];
      const e = [b[0] - ux * g2, b[1] - uy * g2];
      const hl = 5.5, hw = 1.9;
      const bx = e[0] - ux * hl, by = e[1] - uy * hl;
      return {
        type: "group",
        children: [
          { type: "line", shape: { x1: s[0], y1: s[1], x2: bx, y2: by }, style: { stroke: "#333", lineWidth: 0.8 } },
          { type: "polygon", shape: { points: [[e[0], e[1]], [bx - uy * hw, by + ux * hw], [bx + uy * hw, by - ux * hw]] }, style: { fill: "#222" } },
        ],
      };
    },
  });
  const bubbleItems = [...bubbles10, ...bubbles32, ...bubbles34, ...bubbles41, ...bubbles11, ...bubbles35, ...bubbles33].map((n) => nodeItem(n, false));
  const treeItems = [...tree10, ...tree32, ...tree34, ...tree11, ...tree35, ...tree33b].map((n) => nodeItem(n, true));
  const cloudItems = [...cloud33.map((c) => [c[0], c[1], 4, "", "g"]), ...tree33].map((n) => nodeItem(n, true));
  [bubbleItems, cloudItems, treeItems].forEach((data) =>
    series.push({ type: "scatter", xAxisIndex: ov, yAxisIndex: ov, silent: true, z: 4, clip: false, symbol: "circle", data })
  );

  return {
    animation: false,
    backgroundColor: "#fff",
    tooltip: { show: false },
    grid: grids,
    xAxis: xAxes,
    yAxis: yAxes,
    visualMap: {
      type: "continuous", min: 40, max: 100, dimension: 2, seriesIndex: colored, left: 453.3, top: 765.7, itemWidth: 16, itemHeight: 80,
      padding: 0, calculable: false, text: null, hoverLink: false, realtime: false, showLabel: false,
      inRange: { color: ["#1200ff", "#7a50ff", "#e596f0", "#ffc39c", "#ffdc00"] },
      textStyle: { fontSize: 1, color: "transparent" },
    },
    graphic: { elements: buildGraphic() },
    series,
  };
}

export default function App() {
  const ref = useRef<HTMLDivElement>(null);
  useEffect(() => {
    const chart = echarts.init(ref.current!, undefined, { renderer: "svg" });
    chart.setOption(buildOption() as any);
    return () => chart.dispose();
  }, []);
  return <div ref={ref} style={{ position: "absolute", left: 0, top: 0, width: 667, height: 852, background: "#fff" }} />;
}
